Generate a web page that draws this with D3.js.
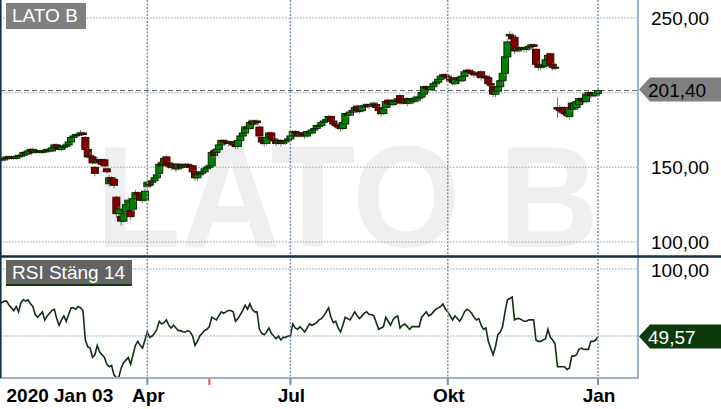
<!DOCTYPE html>
<html>
<head>
<meta charset="utf-8">
<script src="https://cdn.jsdelivr.net/npm/d3@7"></script>
<style>
body{margin:0;background:#fff}
svg{display:block;font-family:'Liberation Sans',Arial,sans-serif}
</style>
</head>
<body>
<div id="chart"></div>
<script>
// daily bars, 2020 Jan 03 .. 2021 Jan 04 (trading days)
var openP = [155,156,155,156,157,156,157,156,157,158,
  158,160,159,161,162,160,161,161,160,161,
  161,162,161,163,165,163,162,164,164,165,
  167,170,171,172,172,173,170,162,157,157,
  150,153,155,155,155,149,139,143,142,130,
  119,117,114,120,126,121,122,129,133,132,
  128,128,137,140,140,141,143,146,153,152,
  157,153,152,150,152,149,152,150,151,152,
  151,151,147,143,145,146,147,149,150,151,
  161,160,162,165,168,167,167,166,167,165,
  164,168,171,173,177,176,181,179,181,177,
  170,167,166,170,173,169,168,166,168,166,
  167,168,169,171,174,173,171,173,172,171,
  174,173,175,176,178,178,180,181,182,184,
  181,179,178,177,176,179,186,185,187,188,
  191,188,188,191,191,192,191,192,192,190,
  189,186,190,195,193,192,194,195,198,196,
  193,196,193,195,194,195,197,197,199,204,
  203,202,204,206,207,209,211,212,211,210,
  208,206,209,210,208,211,214,215,214,213,
  213,212,214,211,211,210,206,204,199,201,
  204,208,213,224,238,238,237,228,230,229,
  230,229,230,231,232,229,219,217,218,218,
  222,226,219,217,190,190,189,190,187,184,
  193,189,190,192,196,195,194,198,200,198,
  198,199.5]
var highP = [157,157,157,158,158,158,158,158,159,159,
  161,161,162,163,163,162,162,162,162,162,
  163,163,164,166,166,164,165,166,166,168,
  171,172,173,174,175,174,171,163,160,158,
  151,157,156,156,156,150,145,144,143,131,
  124,118,121,127,130,122,131,135,134,133,
  131,136,141,141,143,144,147,154,154,157,
  158,154,153,153,153,153,153,152,153,153,
  152,152,148,146,147,148,151,152,152,162,
  163,163,166,169,169,169,168,168,168,166,
  169,172,175,178,178,182,182,182,182,178,
  171,169,171,174,174,171,169,169,169,168,
  169,171,172,175,175,174,174,174,173,175,
  175,176,178,179,179,181,182,184,185,185,
  182,180,179,178,181,187,187,188,189,191,
  192,190,192,193,193,193,193,194,193,191,
  190,191,195,196,194,195,196,197,199,197,
  196,197,196,197,198,198,199,201,205,205,
  204,205,207,208,210,212,213,213,212,211,
  209,210,211,211,212,215,216,216,215,214,
  214,214,215,212,212,211,207,205,202,205,
  209,214,226,236,241,240,238,231,231,231,
  231,231,232,233,233,230,221,219,220,223,
  227,227,220,218,197,192,191,191,189,191,
  194,194,195,197,197,196,200,201,201,200,
  201,202.5]
var lowP = [154,154,154,155,155,155,155,155,156,157,
  157,158,158,160,159,159,160,159,159,160,
  160,160,160,162,162,161,161,163,163,164,
  166,169,170,171,171,171,161,156,156,152,
  144,152,152,151,150,146,137,139,136,116,
  117,111,113,118,124,115,120,127,131,127,
  126,127,136,137,139,140,142,144,149,151,
  150,149,148,149,147,148,149,149,150,150,
  149,145,141,141,144,145,146,148,149,150,
  156,158,161,164,165,165,164,165,163,162,
  162,167,170,172,174,175,178,178,178,169,
  165,164,165,168,167,166,164,165,164,165,
  165,167,168,170,171,170,170,170,169,170,
  172,172,174,175,176,177,179,180,181,180,
  177,176,175,174,175,178,183,184,185,187,
  186,186,187,189,190,189,190,191,189,185,
  184,185,189,191,190,191,193,194,192,192,
  192,191,192,193,193,194,195,196,198,201,
  200,201,203,205,206,208,210,209,207,206,
  205,205,207,206,207,210,212,212,211,210,
  210,210,208,209,208,204,202,197,197,199,
  202,206,211,222,236,234,226,227,227,227,
  227,227,228,229,229,217,215,215,216,217,
  220,217,215,215,183,186,185,184,183,182,
  187,188,189,191,193,192,193,196,196,197,
  197,199]
var closeP = [156,155,156,157,156,157,156,157,158,158,
  160,159,161,162,160,161,161,160,161,161,
  162,161,163,165,163,162,164,164,165,167,
  170,171,172,172,173,172,162,157,158,153,
  146,155,154,152,151,147,143,140,138,119,
  122,114,119,125,128,117,129,133,132,128,
  129,134,140,138,141,143,145,152,151,156,
  152,151,150,152,149,152,150,151,152,151,
  150,147,143,145,146,147,149,150,151,160,
  158,162,165,168,167,167,166,167,165,164,
  168,171,173,177,176,180,179,181,180,171,
  167,166,170,173,169,168,166,168,166,167,
  168,169,171,174,173,171,173,172,171,174,
  173,175,176,178,178,180,181,182,184,181,
  179,178,177,176,180,186,185,187,188,190,
  188,188,191,191,192,191,192,193,190,188,
  186,189,194,193,192,194,195,196,193,194,
  195,193,195,196,196,197,197,200,204,203,
  202,204,206,207,209,211,212,211,210,208,
  207,209,210,208,211,214,215,214,213,212,
  212,213,210,211,210,206,205,199,201,204,
  208,213,224,234,239,236,228,230,229,230,
  229,230,231,232,231,219,217,218,218,222,
  225,219,217,217,189,188,187,186,185,190,
  189,193,194,196,195,194,199,200,198,199,
  200,201.4]
var rsi = [74,75,76,76,73,71,69,72,68,75,
  77,76,77,74,72,66,64,66,68,62,
  65,67,69,70,63,58,62,65,61,66,
  71,71,70,72,71,69,47,42,41,34,
  36,43,38,36,34,29,27,28,21,19,
  19,26,30,32,34,29,36,43,46,43,
  41,47,53,49,50,52,55,61,59,60,
  62,58,56,58,56,54,54,53,53,54,
  53,50,43,46,50,52,54,55,57,64,
  63,62,65,68,67,68,69,69,68,61,
  63,66,69,73,70,74,70,68,68,55,
  52,51,53,56,52,50,48,50,47,49,
  49,50,50,59,56,55,57,55,53,56,
  59,58,59,60,62,63,65,68,71,64,
  60,61,56,53,58,64,63,62,65,68,
  65,63,65,67,68,66,66,65,60,55,
  56,57,64,61,58,62,64,65,56,58,
  59,57,55,57,57,57,57,64,66,68,
  65,66,68,70,71,72,74,70,68,65,
  62,65,63,61,64,68,70,69,67,64,
  62,63,58,55,56,46,41,36,42,51,
  53,57,68,77,78,79,62,63,63,62,
  61,61,62,62,62,47,46,46,47,48,
  55,49,47,44,27,27,27,27,25,26,
  35,35,36,40,41,40,40,40,46,46,
  47,49.57]

var monthIdx = [62, 122, 188, 251]
var monthLab = ['Apr', 'Jul', 'Okt', 'Jan']
var firstLab = '2020 Jan 03'
var markIdx = 88
var priceGrid = [100, 150, 200, 250]
var priceLab = [100, 150, 250]
var rsiGrid = [50, 100]
var rsiLab = [100]
var lastPrice = 201.40
var lastRsi = 49.57

var fmt = function(v){ return d3.format('.2f')(v).replace('.', ',') }

var svg = d3.select('#chart')
            .append('svg')
            .attr('width', 721)
            .attr('height', 409)

var x = d3.scaleLinear().domain([0, closeP.length - 1]).range([-0.5, 598])
var yP = d3.scaleLinear().domain([100, 250]).range([242, 18])
var yR = d3.scaleLinear().domain([0, 100]).range([403, 269])

var defs = svg.append('defs')
defs.append('clipPath').attr('id', 'clipP')
    .append('rect').attr('x', 1).attr('y', 0).attr('width', 636).attr('height', 255)
defs.append('clipPath').attr('id', 'clipR')
    .append('rect').attr('x', 1).attr('y', 258).attr('width', 636).attr('height', 119)

var gP = svg.append('g').attr('clip-path', 'url(#clipP)')
var gR = svg.append('g').attr('clip-path', 'url(#clipR)')

// watermark
gP.append('text')
    .attr('x', 96)
    .attr('y', 247)
    .attr('textLength', 503)
    .attr('lengthAdjust', 'spacingAndGlyphs')
    .style('font-size', '145px')
    .style('font-weight', 'bold')
    .attr('fill', '#efefef')
    .text('LATO B')

// grid
gP.selectAll('line.hgrid')
    .data(priceGrid)
    .enter().append('line')
    .attr('class', 'hgrid')
    .attr('x1', 0).attr('x2', 638)
    .attr('y1', function(d){ return yP(d) })
    .attr('y2', function(d){ return yP(d) })
    .attr('stroke', '#aebfcc')
    .attr('stroke-width', 1.5)
    .attr('stroke-dasharray', '1.5,1.5')
gR.selectAll('line.hgrid')
    .data(rsiGrid)
    .enter().append('line')
    .attr('class', 'hgrid')
    .attr('x1', 0).attr('x2', 638)
    .attr('y1', function(d){ return yR(d) })
    .attr('y2', function(d){ return yR(d) })
    .attr('stroke', '#aebfcc')
    .attr('stroke-width', 1.5)
    .attr('stroke-dasharray', '1.5,1.5')
svg.selectAll('line.vgrid')
    .data(monthIdx)
    .enter().append('line')
    .attr('class', 'vgrid')
    .attr('x1', function(d){ return x(d) })
    .attr('x2', function(d){ return x(d) })
    .attr('y1', 0).attr('y2', 385)
    .attr('stroke', '#7a93aa')
    .attr('stroke-width', 1.5)
    .attr('stroke-dasharray', '2,1.5')

// last price line
gP.append('line')
    .attr('x1', 0).attr('x2', 638)
    .attr('y1', yP(lastPrice)).attr('y2', yP(lastPrice))
    .attr('stroke', '#666')
    .attr('stroke-width', 1)
    .attr('stroke-dasharray', '5,3')

// candles
var candle = gP.selectAll('g.candle')
    .data(closeP)
    .enter().append('g')
    .attr('class', 'candle')
candle.append('line')
    .attr('x1', function(d, i){ return x(i) })
    .attr('x2', function(d, i){ return x(i) })
    .attr('y1', function(d, i){ return yP(highP[i]) })
    .attr('y2', function(d, i){ return yP(lowP[i]) })
    .attr('stroke', '#777')
    .attr('stroke-width', 1)
candle.append('rect')
    .attr('x', function(d, i){ return x(i) - 3.5 })
    .attr('width', 7)
    .attr('y', function(d, i){ return yP(Math.max(openP[i], d)) })
    .attr('height', function(d, i){ return Math.max(1, Math.abs(yP(openP[i]) - yP(d))) })
    .attr('fill', function(d, i){ return d >= openP[i] ? '#008000' : '#800000' })
    .attr('stroke', function(d, i){ return d >= openP[i] ? '#003000' : '#3a0000' })
    .attr('stroke-width', 1)

// rsi line
gR.append('path')
    .datum(rsi)
    .attr('d', d3.line().x(function(d, i){ return x(i) }).y(function(d){ return yR(d) }))
    .attr('fill', 'none')
    .attr('stroke', '#123012')
    .attr('stroke-width', 1.6)

// frame
svg.append('line').attr('x1', 638).attr('x2', 638).attr('y1', 0).attr('y2', 379)
    .attr('stroke', '#a3b3c6').attr('stroke-width', 2)
svg.append('line').attr('x1', 0).attr('x2', 639).attr('y1', 378).attr('y2', 378)
    .attr('stroke', '#a3b3c6').attr('stroke-width', 2)
svg.append('line').attr('x1', 0).attr('x2', 721).attr('y1', 256.5).attr('y2', 256.5)
    .attr('stroke', '#12303f').attr('stroke-width', 2.5)
svg.append('line').attr('x1', 0.8).attr('x2', 0.8).attr('y1', 0).attr('y2', 378)
    .attr('stroke', '#12303f').attr('stroke-width', 1.6)

// x axis
svg.selectAll('line.tick')
    .data(monthIdx)
    .enter().append('line')
    .attr('class', 'tick')
    .attr('x1', function(d){ return x(d) })
    .attr('x2', function(d){ return x(d) })
    .attr('y1', 378).attr('y2', 385)
    .attr('stroke', '#7a93aa')
    .attr('stroke-width', 2)
svg.append('line')
    .attr('x1', x(markIdx)).attr('x2', x(markIdx))
    .attr('y1', 379).attr('y2', 385)
    .attr('stroke', '#ff4a4a')
    .attr('stroke-width', 2)
svg.append('text')
    .attr('x', 6.5).attr('y', 401.5)
    .style('font-size', '19px').style('font-weight', 'bold')
    .text(firstLab)
svg.selectAll('text.month')
    .data(monthIdx)
    .enter().append('text')
    .attr('class', 'month')
    .attr('x', function(d){ return x(d) + 1 })
    .attr('y', 401.5)
    .style('text-anchor', 'middle')
    .style('font-size', '19px').style('font-weight', 'bold')
    .text(function(d, i){ return monthLab[i] })

// right axis labels
svg.selectAll('text.plab')
    .data(priceLab)
    .enter().append('text')
    .attr('class', 'plab')
    .attr('x', 651).attr('y', function(d){ return yP(d) + 7 })
    .style('font-size', '19px')
    .text(fmt)
svg.selectAll('text.rlab')
    .data(rsiLab)
    .enter().append('text')
    .attr('class', 'rlab')
    .attr('x', 651).attr('y', function(d){ return yR(d) + 7.5 })
    .style('font-size', '19px')
    .text(fmt)

// badges
function badge(yc, fill, color, label){
    svg.append('path')
        .attr('d', 'M639,' + yc + 'L650,' + (yc - 12) + 'L721,' + (yc - 12) + 'L721,' + (yc + 12) + 'L650,' + (yc + 12) + 'Z')
        .attr('fill', fill)
    svg.append('text')
        .attr('x', 648).attr('y', yc + 7)
        .style('font-size', '19px')
        .attr('fill', color)
        .text(label)
}
badge(yP(lastPrice) - 1, '#808080', '#000', fmt(lastPrice))
badge(yR(lastRsi), '#0b3a0b', '#fff', fmt(lastRsi))

// panel titles
svg.append('rect').attr('x', 6).attr('y', 3).attr('width', 80).attr('height', 26).attr('fill', '#808080')
svg.append('text').attr('x', 12).attr('y', 22).style('font-size', '19px').attr('fill', '#fff').text('LATO B')
svg.append('rect').attr('x', 6).attr('y', 260).attr('width', 126).attr('height', 26).attr('fill', '#636363')
svg.append('rect').attr('x', 6).attr('y', 284).attr('width', 126).attr('height', 2).attr('fill', '#0b3a0b')
svg.append('text').attr('x', 12).attr('y', 279).style('font-size', '19px').attr('fill', '#fff').text('RSI Stäng 14')
</script>
</body>
</html>
